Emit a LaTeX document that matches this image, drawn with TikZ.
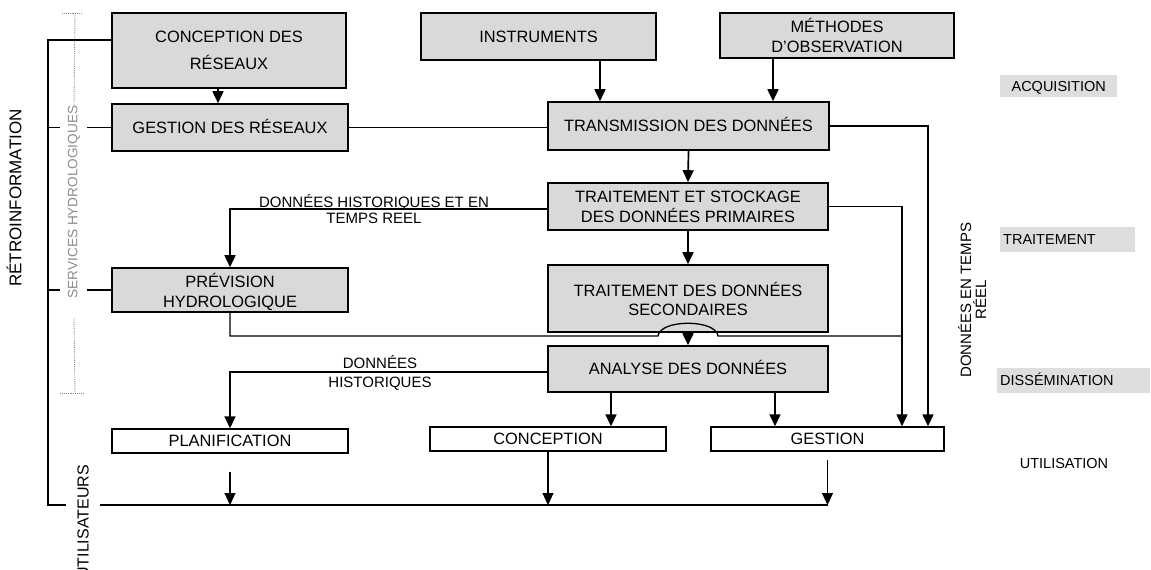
\documentclass[tikz,border=0pt]{standalone}
\usepackage{fontspec}
\setmainfont{Liberation Sans}
\usetikzlibrary{arrows.meta,calc}
\begin{document}
\begin{tikzpicture}[x=1pt,y=-1pt,
  box/.style={draw=black,line width=1.6pt,fill=black!15,inner sep=0pt,align=center,text depth=0pt,font=\fontsize{16.4}{20}\selectfont},
  wbox/.style={draw=black,line width=1.4pt,fill=white,inner sep=0pt,align=center,font=\fontsize{16.4}{20}\selectfont,text height=11.8pt,text depth=0pt},
  one/.style={text height=11.8pt,text depth=0pt},
  conn/.style={line width=1.7pt},
  tip/.style={-{Triangle[length=12pt,width=11pt]}},
  arr/.style={conn,tip},
  lbl/.style={font=\fontsize{15}{16}\selectfont,inner sep=0pt},
  phase/.style={fill=black!13,font=\fontsize{14.5}{16}\selectfont,inner xsep=3pt,inner ysep=0pt,anchor=west,text height=10.4pt,text depth=0pt},
  rot/.style={rotate=90,inner sep=0pt,align=center},
  dots/.style={black!45,densely dotted,line width=0.9pt},
]
\useasboundingbox (0,0) rectangle (1151,570);

% main boxes
\node[box,minimum width=234pt,minimum height=75pt,font=\fontsize{16.4}{27}\selectfont] (cdr) at (229,50.5) {CONCEPTION DES\\RÉSEAUX};
\node[box,one,minimum width=236pt,minimum height=47pt] (gdr) at (230,127.5) {GESTION DES RÉSEAUX};
\node[box,one,minimum width=235pt,minimum height=47pt] (instr) at (538.5,36.5) {INSTRUMENTS};
\node[box,minimum width=234pt,minimum height=45pt] (meth) at (837,35.5) {MÉTHODES\\D'OBSERVATION};
\node[box,one,minimum width=281pt,minimum height=48pt] (trans) at (688.5,126) {TRANSMISSION DES DONNÉES};
\node[box,minimum width=280pt,minimum height=47pt] (tsp) at (688,206.5) {TRAITEMENT ET STOCKAGE\\DES DONNÉES PRIMAIRES};
\node[box,minimum width=280pt,minimum height=67pt,font=\fontsize{16.4}{19}\selectfont] (tds) at (688,298.5) {TRAITEMENT DES DONNÉES\\SECONDAIRES};
\node[box,one,minimum width=280pt,minimum height=46pt] (ana) at (688,369) {ANALYSE DES DONNÉES};
\node[box,minimum width=236pt,minimum height=44pt] (prev) at (230,290) {PRÉVISION\\HYDROLOGIQUE};

% user boxes
\node[wbox,minimum width=236pt,minimum height=24pt] (plan) at (230,441) {PLANIFICATION};
\node[wbox,minimum width=236pt,minimum height=24pt] (conc) at (548,439) {CONCEPTION};
\node[wbox,minimum width=233pt,minimum height=24pt] (gest) at (827.5,439) {GESTION};

% phase labels
\node[phase,text width=111pt,align=center,minimum height=22pt] (acq) at (1000,86) {ACQUISITION};
\node[phase,text width=129pt,align=left,minimum height=25pt] (trt) at (1000,239.5) {TRAITEMENT};
\node[phase,text width=147pt,align=left,minimum height=25pt] (dis) at (997,380.5) {DISSÉMINATION};
\node[lbl,font=\fontsize{14.5}{16}\selectfont] (utl) at (1064,464) {UTILISATION};

% rotated labels
\node[rot,font=\fontsize{17}{20}\selectfont] (retro) at (14,198) {RÉTROINFORMATION};
\node[rot,text=black!45,font=\fontsize{13.6}{16}\selectfont] (serv) at (74,202) {SERVICES HYDROLOGIQUES};
\node[rot,anchor=east,font=\fontsize{16}{18}\selectfont] (users) at (83,465) {UTILISATEURS};
\node[rot,font=\fontsize{15}{15}\selectfont] (dtr) at (972,300) {DONNÉES EN TEMPS\\RÉEL};

% connector labels
\node[lbl,anchor=base] (h1a) at (374,207) {DONNÉES HISTORIQUES ET EN};
\node[lbl,anchor=base] (h1b) at (374,223) {TEMPS REEL};
\node[lbl,anchor=base] (h2a) at (380,368) {DONNÉES};
\node[lbl,anchor=base] (h2b) at (380,387) {HISTORIQUES};

% helper coordinates
\coordinate (xa) at (218,0);
\coordinate (xi) at (600,0);
\coordinate (xm) at (773,0);
\coordinate (yh1) at (0,209);
\coordinate (yh2) at (0,372);
\coordinate (xa1) at (611,0);
\coordinate (xa2) at (775,0);
\coordinate (xr1) at (902,0);
\coordinate (xr2) at (928,0);
\coordinate (join) at (902,336);
\coordinate (hopL) at (658,336);
\coordinate (hopR) at (718,336);
\coordinate (bl) at (100,505);
\coordinate (br) at (828,505);
\coordinate (fb1) at (48,40);
\coordinate (fb2) at (48,505);
\coordinate (fb3) at (66,505);

% connectors
\draw[arr] (cdr.south -| xa) -- (gdr.north -| xa);
\draw[arr] (instr.south -| xi) -- (trans.north -| xi);
\draw[arr] (meth.south -| xm) -- (trans.north -| xm);
\draw[conn] (gdr.east) -- (gdr.east -| trans.west);
\draw[arr] (trans.south) -- (tsp.north);
\draw[arr] (tsp.south) -- (tds.north);
\draw[arr] (tsp.west |- yh1) -| (prev.north);
\draw[conn,line width=1.3pt] (prev.south) |- (hopL) .. controls (660,319) and (716,319) .. (hopR) -- (join);
\draw[arr] (tds.south) -- (ana.north);
\draw[arr] (trans.east) -| (gest.north -| xr2);
\draw[arr,line width=1.3pt] (tsp.east) -| (gest.north -| xr1);
\draw[arr] (ana.west |- yh2) -| (plan.north);
\draw[arr] (ana.south -| xa1) -- (conc.north -| xa1);
\draw[arr] (ana.south -| xa2) -- (gest.north -| xa2);

% users line
\draw[line width=2.6pt] (bl) -- (br);
\draw[tip,line width=1.1pt,shorten <=18pt] (plan.south) -- (plan.south |- bl);
\draw[tip,line width=1.1pt] (conc.south) -- (conc.south |- bl);
\draw[tip,line width=1.1pt,shorten <=8pt] (gest.south) -- (gest.south |- bl);

% feedback
\draw[line width=1.8pt] (cdr.west |- fb1) -| (fb2) -- (fb3);
\draw[conn] (gdr.west) -- ++(-24,0);
\draw[conn] (gdr.west -| fb1) -- ++(12,0);
\draw[conn] (prev.west) -- ++(-24,0);
\draw[conn] (prev.west -| fb1) -- ++(12,0);

% services bracket
\draw[dots] (62,13) -- (82,13);
\draw[dots] (75,13) -- (serv.east);
\draw[dots] ($(serv.west)+(0,20)$) -- (75,393);
\draw[dots] (60,393) -- (84,393);
\end{tikzpicture}
\end{document}
